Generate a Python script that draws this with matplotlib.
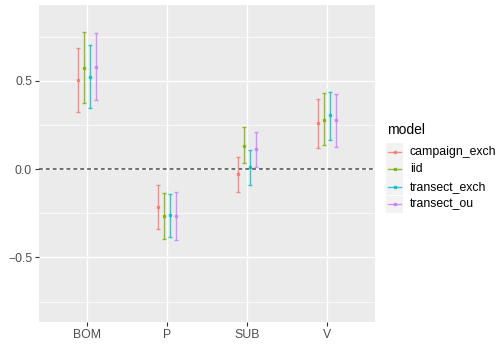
import numpy as np
import matplotlib
matplotlib.use("Agg")
from matplotlib import pyplot as plt
from matplotlib.lines import Line2D
from matplotlib.patches import Rectangle

plt.rcParams['font.family'] = ['Liberation Sans', 'DejaVu Sans']

categories = ['BOM', 'P', 'SUB', 'V']
models = ['campaign_exch', 'iid', 'transect_exch', 'transect_ou']
colors = ['#F8766D', '#7CAE00', '#00BFC4', '#C77CFF']

# estimates and interval bounds, one list per model, in category order
est = {
    'campaign_exch': [0.502, -0.215, -0.030, 0.259],
    'iid':           [0.574, -0.266, 0.132, 0.279],
    'transect_exch': [0.523, -0.260, 0.010, 0.304],
    'transect_ou':   [0.579, -0.266, 0.112, 0.276],
}
lower = {
    'campaign_exch': [0.323, -0.338, -0.128, 0.119],
    'iid':           [0.372, -0.398, 0.032, 0.134],
    'transect_exch': [0.344, -0.383, -0.092, 0.166],
    'transect_ou':   [0.389, -0.402, 0.010, 0.126],
}
upper = {
    'campaign_exch': [0.683, -0.092, 0.070, 0.396],
    'iid':           [0.776, -0.134, 0.236, 0.429],
    'transect_exch': [0.702, -0.142, 0.109, 0.436],
    'transect_ou':   [0.768, -0.132, 0.208, 0.425],
}

W, H = 504, 350
fig = plt.figure(figsize=(W / 100, H / 100), dpi=100)
ax = fig.add_axes([39 / W, 1 - 322 / H, (375 - 39) / W, (322 - 5) / H])
ax.set_facecolor('#EBEBEB')

x = np.arange(1, len(categories) + 1)
offsets = [-0.1125, -0.0375, 0.0375, 0.1125]
for m, c, off in zip(models, colors, offsets):
    e = np.array(est[m])
    lo = np.array(lower[m])
    hi = np.array(upper[m])
    ax.errorbar(x + off, e, yerr=[e - lo, hi - e], fmt='s', color=c,
                markersize=1.6, elinewidth=1.0, capsize=1.6, capthick=1.0,
                alpha=0.8, zorder=3)

ax.axhline(0, color='#4D4D4D', linestyle=(0, (2.5, 2)), linewidth=1.1, zorder=2)

ax.set_xlim(0.4, 4.6)
ax.set_ylim(-0.866, 0.929)
ax.set_xticks(x)
ax.set_xticklabels(categories)
ax.set_yticks([-0.5, 0.0, 0.5])
ax.set_yticklabels(['\u22120.5', '0.0', '0.5'])
ax.set_yticks([-0.75, -0.25, 0.25, 0.75], minor=True)
ax.set_xticks([], minor=True)
ax.grid(True, which='major', color='white', linewidth=1.0)
ax.grid(True, which='minor', axis='y', color='white', linewidth=0.5)
ax.set_axisbelow(True)
for s in ax.spines.values():
    s.set_visible(False)
ax.tick_params(which='major', length=3, width=0.8, color='#333333',
               labelcolor='#4D4D4D', labelsize=8.8, pad=2)
ax.tick_params(which='minor', length=0)

# legend drawn by hand, ggplot style
fig.text(387 / W, 1 - 130 / H, 'model', fontsize=10, va='center', ha='left')
row_h = 17.4
for i, (m, c) in enumerate(zip(models, colors)):
    yc = 152 + i * row_h
    fig.patches.append(Rectangle((386 / W, 1 - (yc + 8.6) / H), 17.3 / W, 17.2 / H,
                                 transform=fig.transFigure, facecolor='#F2F2F2',
                                 edgecolor='none'))
    fig.lines.append(Line2D([388 / W, 401 / W], [1 - yc / H] * 2, transform=fig.transFigure,
                            color=c, linewidth=1.0, alpha=0.8))
    fig.lines.append(Line2D([394.6 / W], [1 - yc / H], transform=fig.transFigure,
                            color=c, marker='s', markersize=1.5, linestyle='none', alpha=0.8))
    fig.text(410 / W, 1 - yc / H, m, fontsize=8.8, va='center', ha='left')

fig.savefig('out.png', dpi=100)
